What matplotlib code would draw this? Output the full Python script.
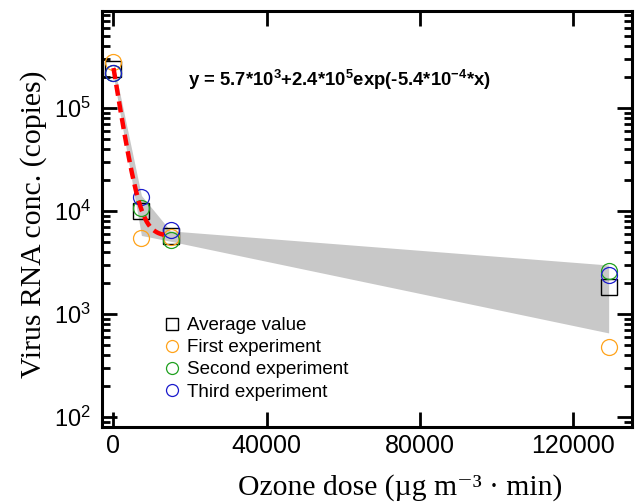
import numpy as np
import matplotlib
matplotlib.use('Agg')
import matplotlib.pyplot as plt
from matplotlib.ticker import LogLocator, FixedLocator, NullFormatter

# 数据
dose = [0, 7300, 14900, 129400]
first_exp = [2.8e5, 5.5e3, 5.6e3, 4.8e2]
second_exp = [2.2e5, 1.07e4, 5.2e3, 2.6e3]
third_exp = [2.2e5, 1.38e4, 6.5e3, 2.4e3]

# 拟合参数 y = a + b*exp(-k*x)
fit_a = 5.7e3
fit_b = 2.4e5
fit_k = 5.4e-4
fit_x_end = 14000

x_ticks = [0, 40000, 80000, 120000]

plt.rcParams['font.family'] = ['Liberation Sans', 'DejaVu Sans']
plt.rcParams['mathtext.fontset'] = 'custom'
plt.rcParams['mathtext.rm'] = 'Liberation Sans'
plt.rcParams['mathtext.bf'] = 'Liberation Sans:bold'

runs = np.array([first_exp, second_exp, third_exp])
avg = runs.mean(axis=0)
sd = runs.std(axis=0, ddof=1)

fig = plt.figure(figsize=(6.36, 5.03), dpi=100)
ax = fig.add_axes([0.1604, 0.1511, 0.8333, 0.8270])

# 标准差阴影
ax.fill_between(dose, avg - sd, avg + sd, color='#C8C8C8', lw=0, zorder=1)

# 数据点
ax.plot(dose, avg, 's', mfc='none', mec='black', mew=1.0, ms=11.5, zorder=3, label='Average value')
ax.plot(dose, first_exp, 'o', mfc='none', mec='#FFA31A', mew=0.9, ms=11.5, zorder=4, label='First experiment')
ax.plot(dose, second_exp, 'o', mfc='none', mec='#1FA01F', mew=0.9, ms=11.5, zorder=5, label='Second experiment')
ax.plot(dose, third_exp, 'o', mfc='none', mec='#1A1ACC', mew=0.9, ms=11.5, zorder=6, label='Third experiment')

# 拟合曲线
xf = np.linspace(0, fit_x_end, 200)
yf = fit_a + fit_b * np.exp(-fit_k * xf)
ax.plot(xf, yf, color='red', lw=3.2, dashes=(2.5, 1.3), zorder=7)

ax.set_yscale('log')
ax.set_xlim(-3000, 135500)
ax.set_ylim(80, 8.8e5)

ax.xaxis.set_major_locator(FixedLocator(x_ticks))
ax.set_xticklabels([str(v) for v in x_ticks])
ax.yaxis.set_major_locator(LogLocator(base=10, numticks=10))
ax.yaxis.set_minor_locator(LogLocator(base=10, subs=np.arange(2, 10), numticks=20))
ax.yaxis.set_minor_formatter(NullFormatter())

ax.tick_params(axis='both', which='major', direction='in', length=11, width=2,
               top=True, right=True, labelsize=18)
ax.tick_params(axis='y', which='major', labelsize=17)
ax.tick_params(axis='y', which='minor', direction='in', length=5.5, width=2, right=True)
ax.tick_params(axis='x', which='minor', bottom=False, top=False)
ax.tick_params(axis='x', pad=5)
ax.tick_params(axis='y', pad=8)
for s in ax.spines.values():
    s.set_linewidth(2.2)

xl = ax.set_xlabel('Ozone dose (\u00b5g m\u207b\u00b3 \u00b7 min)',
                   family=['Liberation Serif', 'DejaVu Serif'], fontsize=21.3)
xl.set_va('center')
ax.xaxis.set_label_coords(0.562, -0.1466)
yl = ax.set_ylabel('Virus RNA conc. (copies)', family='Liberation Serif', fontsize=21.4)
yl.set_va('center')
ax.yaxis.set_label_coords(-0.130, 0.487)

ax.text(0.162, 0.834, r'y = 5.7*10$\mathbf{^{3}}$+2.4*10$\mathbf{^{5}}$exp(-5.4*10$\mathbf{^{-4}}$*x)',
        transform=ax.transAxes, ha='left', va='center', fontsize=13.3, fontweight='bold')

ax.legend(loc='upper left', bbox_to_anchor=(0.0825, 0.305), frameon=False, fontsize=13.5,
          markerscale=0.75, handletextpad=0.3, labelspacing=0.27, handlelength=1.0)

plt.savefig('out.png', dpi=100)
plt.close()
